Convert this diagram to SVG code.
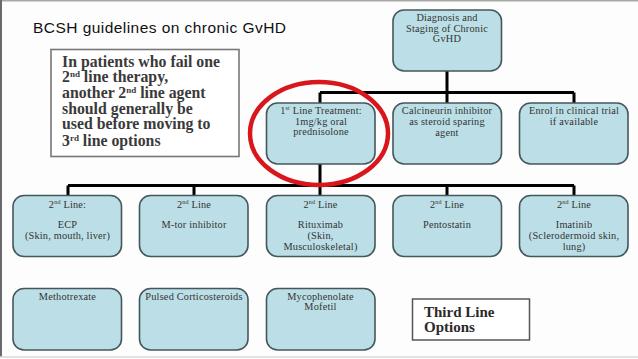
<svg xmlns="http://www.w3.org/2000/svg" width="638" height="359" viewBox="0 0 638 359">
<style>
.box{fill:#bcdfe7;stroke:#46575b;stroke-width:1.6}
.t{font-family:"Liberation Serif","Times New Roman",serif;font-size:10.3px;letter-spacing:0.2px;fill:#333;text-anchor:middle}
.sup{font-size:6px}
.conn{fill:none;stroke:#000;stroke-width:3}
.note{font-family:"Liberation Serif","Times New Roman",serif;font-weight:bold;font-size:15.8px;fill:#3a3a3a}
.ns{font-size:9px}
</style>
<rect x="0" y="0" width="638" height="359" fill="#fdfdfd"/>
<line x1="0" y1="0.8" x2="638" y2="0.8" stroke="#a8a8a8" stroke-width="1.6"/>
<line x1="1" y1="0" x2="1" y2="357" stroke="#6a6a6a" stroke-width="2"/>
<line x1="0" y1="357" x2="638" y2="357" stroke="#d8d8d8" stroke-width="1.5"/>

<text x="33" y="32.5" font-family="'Liberation Sans',Arial,sans-serif" font-size="15.5" fill="#111" textLength="253">BCSH guidelines on chronic GvHD</text>

<g id="note">
<rect x="51" y="49.5" width="188" height="107" fill="#fff" stroke="#777" stroke-width="1.6"/>
<text class="note" x="62" y="66.5">In patients who fail one</text>
<text class="note" x="62" y="82">2<tspan class="ns" dy="-5">nd</tspan><tspan dy="5"> line therapy,</tspan></text>
<text class="note" x="62" y="97.8">another 2<tspan class="ns" dy="-5">nd</tspan><tspan dy="5"> line agent</tspan></text>
<text class="note" x="62" y="113.5">should generally be</text>
<text class="note" x="62" y="129.3">used before moving to</text>
<text class="note" x="62" y="145.5">3<tspan class="ns" dy="-5">rd</tspan><tspan dy="5"> line options</tspan></text>
</g>

<g id="connectors">
<path class="conn" d="M447 71V92.5M320 92.5H574M320 92.5V103M447 92.5V103M574 92.5V103"/>
<path class="conn" d="M320 164V185.5M68 185.5H574M68 185.5V195.5M194 185.5V195.5M320 185.5V195.5M447 185.5V195.5M574 185.5V195.5"/>
</g>

<g id="diagnosis">
<rect class="box" x="393" y="10" width="108.5" height="61" rx="11"/>
<text class="t" x="447" y="21">Diagnosis and</text>
<text class="t" x="447" y="31.7">Staging of Chronic</text>
<text class="t" x="447" y="42.4">GvHD</text>
</g>

<g id="first-line">
<rect class="box" x="266.5" y="103" width="108.5" height="61" rx="11"/>
<text class="t" x="321" y="114.3">1<tspan class="sup" dy="-4">st</tspan><tspan dy="4"> Line Treatment:</tspan></text>
<text class="t" x="321" y="124.8">1mg/kg oral</text>
<text class="t" x="321" y="135.3">prednisolone</text>
</g>

<g id="calcineurin">
<rect class="box" x="393" y="103" width="108.5" height="61" rx="11"/>
<text class="t" x="447" y="114">Calcineurin inhibitor</text>
<text class="t" x="447" y="124.8">as steroid sparing</text>
<text class="t" x="447" y="135.6">agent</text>
</g>

<g id="enrol">
<rect class="box" x="519.5" y="103" width="108.5" height="61" rx="11"/>
<text class="t" x="574" y="114">Enrol in clinical trial</text>
<text class="t" x="574" y="124.8">if available</text>
</g>

<g id="ecp">
<rect class="box" x="13" y="195.5" width="108.5" height="61" rx="11"/>
<text class="t" x="67.5" y="207.5">2<tspan class="sup" dy="-4">nd</tspan><tspan dy="4"> Line:</tspan></text>
<text class="t" x="67.5" y="228">ECP</text>
<text class="t" x="67.5" y="239">(Skin, mouth, liver)</text>
</g>

<g id="mtor">
<rect class="box" x="139.5" y="195.5" width="108.5" height="61" rx="11"/>
<text class="t" x="194" y="207.5">2<tspan class="sup" dy="-4">nd</tspan><tspan dy="4"> Line</tspan></text>
<text class="t" x="194" y="228.3">M-tor inhibitor</text>
</g>

<g id="rituximab">
<rect class="box" x="266.5" y="195.5" width="108.5" height="61" rx="11"/>
<text class="t" x="320.5" y="207.5">2<tspan class="sup" dy="-4">nd</tspan><tspan dy="4"> Line</tspan></text>
<text class="t" x="320.5" y="228">Rituximab</text>
<text class="t" x="320.5" y="239">(Skin,</text>
<text class="t" x="320.5" y="250">Musculoskeletal)</text>
</g>

<g id="pentostatin">
<rect class="box" x="393" y="195.5" width="108.5" height="61" rx="11"/>
<text class="t" x="447" y="207.5">2<tspan class="sup" dy="-4">nd</tspan><tspan dy="4"> Line</tspan></text>
<text class="t" x="447" y="228.3">Pentostatin</text>
</g>

<g id="imatinib">
<rect class="box" x="519.5" y="195.5" width="108.5" height="61" rx="11"/>
<text class="t" x="574" y="207.5">2<tspan class="sup" dy="-4">nd</tspan><tspan dy="4"> Line</tspan></text>
<text class="t" x="574" y="228">Imatinib</text>
<text class="t" x="574" y="239">(Sclerodermoid skin,</text>
<text class="t" x="574" y="250">lung)</text>
</g>

<g id="methotrexate">
<rect class="box" x="13" y="288.5" width="108.5" height="61.5" rx="11"/>
<text class="t" x="67.5" y="299.5">Methotrexate</text>
</g>

<g id="corticosteroids">
<rect class="box" x="139.5" y="288.5" width="108.5" height="61.5" rx="11"/>
<text class="t" x="194" y="299.5">Pulsed Corticosteroids</text>
</g>

<g id="mycophenolate">
<rect class="box" x="266.5" y="288.5" width="108.5" height="61.5" rx="11"/>
<text class="t" x="320.5" y="299.5">Mycophenolate</text>
<text class="t" x="320.5" y="310.3">Mofetil</text>
</g>

<g id="third-line">
<rect x="412.5" y="299" width="117" height="41" fill="#fff" stroke="#555" stroke-width="1.5"/>
<text font-family="'Liberation Serif','Times New Roman',serif" font-size="15" font-weight="bold" fill="#2a2a2a"><tspan x="424" y="316.8">Third Line</tspan><tspan x="424" y="331.8">Options</tspan></text>
</g>

<ellipse id="highlight" cx="319" cy="133.5" rx="69" ry="51.5" fill="none" stroke="#d8161b" stroke-width="4.5"/>
</svg>
